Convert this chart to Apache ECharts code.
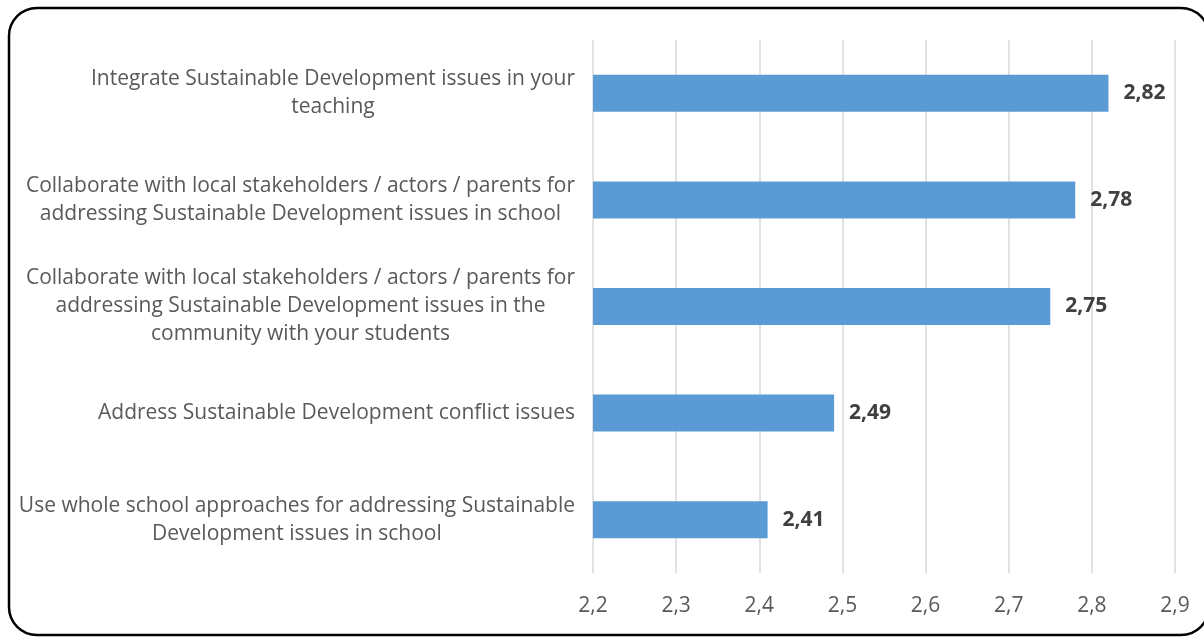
<!DOCTYPE html>
<html>
<head>
<meta charset="utf-8">
<script src="https://cdn.jsdelivr.net/npm/echarts@6/dist/echarts.min.js"></script>
<style>
  html, body { margin: 0; padding: 0; background: #fff; }
  #chart { width: 1204px; height: 639px; }
</style>
</head>
<body>
<div id="chart"></div>
<script>
// catégories (de haut en bas) et valeurs moyennes
const categories = [
  'Integrate Sustainable Development issues in your\nteaching',
  'Collaborate with local stakeholders / actors / parents for\naddressing Sustainable Development issues in school',
  'Collaborate with local stakeholders / actors / parents for\naddressing Sustainable Development issues in the\ncommunity with your students',
  'Address Sustainable Development conflict issues',
  'Use whole school approaches for addressing Sustainable\nDevelopment issues in school'
];
const values = [2.82, 2.78, 2.75, 2.49, 2.41];

const axisMin = 2.2;
const axisMax = 2.9;
const axisStep = 0.1;

const font = '"Open Sans", "Noto Sans", sans-serif';
const virgule = v => String(v).replace('.', ',');

const chart = echarts.init(document.getElementById('chart'));

chart.setOption({
  animation: false,
  backgroundColor: '#fff',
  grid: { left: 593, right: 29, top: 40, bottom: 66 },
  // cadre arrondi autour du graphique
  graphic: [{
    type: 'rect',
    shape: { x: 9, y: 8, width: 1200, height: 627, r: 28 },
    style: { fill: 'none', stroke: '#000', lineWidth: 2.5 },
    silent: true,
    z: 100
  }],
  xAxis: {
    type: 'value',
    min: axisMin,
    max: axisMax,
    interval: axisStep,
    axisLine: { show: false },
    axisTick: { show: false },
    splitLine: { show: true, lineStyle: { color: '#d9d9d9', width: 1.5 } },
    axisLabel: {
      margin: 23,
      fontFamily: font,
      fontSize: 21,
      color: '#595959',
      formatter: v => virgule(Number(v).toFixed(1))
    }
  },
  yAxis: {
    type: 'category',
    inverse: true,
    data: categories,
    axisLine: { show: false },
    axisTick: { show: false },
    axisLabel: {
      margin: 18,
      formatter: v => v.split('\n').map(l => '{c|' + l + '}').join('\n'),
      rich: {
        c: {
          align: 'center',
          fontFamily: font,
          fontSize: 21,
          lineHeight: 28,
          color: '#595959'
        }
      }
    }
  },
  series: [{
    type: 'bar',
    data: values,
    barWidth: 37,
    itemStyle: { color: '#5b9bd5' },
    label: {
      show: true,
      position: 'right',
      distance: 15,
      fontFamily: font,
      fontSize: 21,
      fontWeight: 'bold',
      color: '#404040',
      formatter: p => virgule(p.value.toFixed(2))
    }
  }]
});
</script>
</body>
</html>
